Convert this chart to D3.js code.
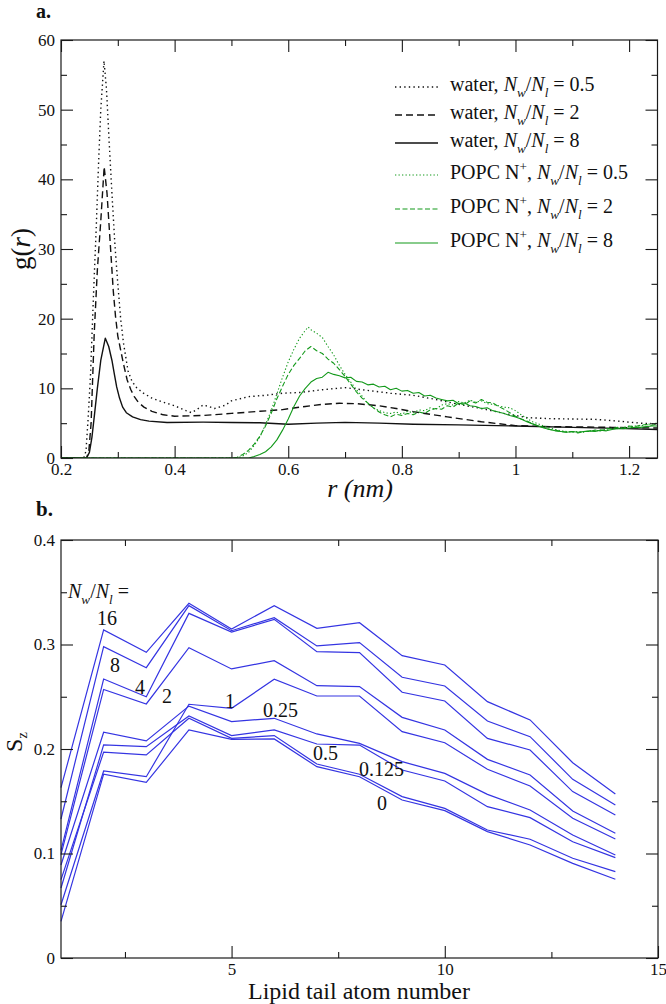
<!DOCTYPE html>
<html><head><meta charset="utf-8">
<script src="https://cdn.jsdelivr.net/npm/d3@7"></script>
<style>
body{margin:0;background:#fff}
svg{display:block}
text{font-family:"Liberation Serif","Times New Roman",serif;fill:#111;white-space:pre}
</style>
</head><body>
<svg id="c" width="666" height="1004"></svg>
<script>
// ---------------- Panel a: g(r) data ----------------
const waterRatio05 = [[0.20,0],[0.24,0],[0.244,1],[0.248,6],[0.252,12],[0.257,23],[0.262,33],[0.266,42],[0.270,50],[0.2757,57],[0.280,53],[0.285,45],[0.290,37.5],[0.295,30.5],[0.300,25],[0.305,20],[0.310,16.5],[0.318,12.5],[0.325,11],[0.333,10.1],[0.345,9.3],[0.36,8.6],[0.38,8.0],[0.40,7.5],[0.42,6.8],[0.43,6.5],[0.44,7.0],[0.45,7.6],[0.46,7.4],[0.47,7.1],[0.49,7.6],[0.50,8.2],[0.53,8.8],[0.56,9.0],[0.59,9.3],[0.62,9.4],[0.66,9.8],[0.70,10.1],[0.74,9.7],[0.78,9.3],[0.82,9.0],[0.86,8.4],[0.90,7.7],[0.94,7.1],[0.98,6.4],[1.02,5.8],[1.06,5.65],[1.10,5.6],[1.14,5.55],[1.18,5.3],[1.22,5.0],[1.25,4.9]];
const waterRatio2 = [[0.20,0],[0.245,0],[0.249,1],[0.253,5],[0.2585,17.9],[0.264,27],[0.270,34],[0.276,41.8],[0.281,38],[0.2874,29.9],[0.292,24],[0.296,20.3],[0.300,17.5],[0.305,15.5],[0.310,13.5],[0.3165,11.2],[0.323,9.8],[0.329,8.8],[0.336,8.0],[0.346,7.3],[0.36,6.7],[0.38,6.2],[0.40,6.0],[0.45,6.1],[0.50,6.4],[0.55,6.7],[0.59,6.95],[0.63,7.4],[0.66,7.7],[0.69,7.85],[0.72,7.8],[0.76,7.5],[0.79,7.1],[0.82,6.65],[0.88,5.9],[0.94,5.2],[1.00,4.65],[1.06,4.5],[1.12,4.45],[1.17,4.4],[1.25,4.3]];
const waterRatio8 = [[0.20,0],[0.245,0],[0.250,0.8],[0.2545,3],[0.2585,5.9],[0.264,10],[0.270,14],[0.278,17.2],[0.284,16],[0.2897,14],[0.294,12],[0.298,10.2],[0.303,8.6],[0.3085,7.3],[0.315,6.5],[0.326,5.9],[0.34,5.5],[0.355,5.3],[0.3866,5.1],[0.45,5.15],[0.50,5.1],[0.55,5.05],[0.60,4.85],[0.65,5.0],[0.70,5.12],[0.76,5.0],[0.82,4.85],[0.90,4.75],[1.00,4.6],[1.10,4.4],[1.18,4.25],[1.25,4.1]];
const popcRatio05 = [[0.20,0],[0.50,0],[0.51,0],[0.52,0.3],[0.53,0.8],[0.54,1.8],[0.55,3.0],[0.56,4.8],[0.57,6.8],[0.58,9.2],[0.59,11.6],[0.60,13.8],[0.61,15.6],[0.62,17.2],[0.63,18.3],[0.635,18.8],[0.64,18.4],[0.65,17.9],[0.66,17.3],[0.67,16.0],[0.68,14.8],[0.69,13.3],[0.70,12.0],[0.71,10.9],[0.72,9.8],[0.73,8.9],[0.74,7.8],[0.75,7.2],[0.76,6.8],[0.77,6.5],[0.78,6.4],[0.79,6.6],[0.80,6.3],[0.81,6.7],[0.82,6.5],[0.83,6.9],[0.84,6.8],[0.85,7.2],[0.86,7.0],[0.87,7.6],[0.88,7.8],[0.89,7.6],[0.90,8.1],[0.91,7.9],[0.92,8.3],[0.93,8.0],[0.94,8.2],[0.95,7.8],[0.96,7.7],[0.97,7.5],[0.98,7.3],[0.99,7.2],[1.00,6.8],[1.01,6.2],[1.02,5.7],[1.03,5.2],[1.04,4.9],[1.05,4.6],[1.06,4.3],[1.07,4.1],[1.08,3.9],[1.09,3.8],[1.10,3.7],[1.11,3.8],[1.12,3.7],[1.13,3.9],[1.14,3.9],[1.15,4.0],[1.16,4.1],[1.17,4.3],[1.18,4.2],[1.19,4.4],[1.20,4.5],[1.21,4.6],[1.22,4.6],[1.23,4.8],[1.24,4.9],[1.25,5.0]];
const popcRatio2 = [[0.20,0],[0.50,0],[0.51,0.1],[0.52,0.5],[0.53,1.1],[0.54,2.0],[0.55,3.1],[0.56,4.6],[0.57,6.4],[0.58,8.5],[0.59,10.3],[0.60,12.0],[0.61,13.3],[0.62,14.3],[0.63,15.4],[0.64,16.0],[0.65,15.4],[0.66,15.0],[0.67,14.2],[0.68,13.6],[0.69,12.7],[0.70,11.7],[0.71,10.6],[0.72,9.5],[0.73,8.6],[0.74,7.9],[0.75,7.2],[0.76,6.6],[0.77,6.2],[0.78,5.9],[0.79,6.3],[0.80,6.1],[0.81,6.4],[0.82,6.2],[0.83,6.6],[0.84,6.4],[0.85,6.9],[0.86,7.1],[0.87,7.0],[0.88,7.5],[0.89,7.3],[0.90,7.9],[0.91,7.6],[0.92,8.2],[0.93,7.9],[0.94,8.4],[0.95,8.0],[0.96,7.9],[0.97,7.4],[0.98,7.0],[0.99,6.5],[1.00,6.0],[1.01,5.6],[1.02,5.3],[1.03,4.9],[1.04,4.6],[1.05,4.4],[1.06,4.1],[1.07,4.0],[1.08,3.8],[1.09,3.7],[1.10,3.8],[1.11,3.6],[1.12,3.8],[1.13,3.8],[1.14,4.0],[1.15,3.9],[1.16,4.2],[1.17,4.2],[1.18,4.4],[1.19,4.3],[1.20,4.6],[1.21,4.5],[1.22,4.7],[1.23,4.8],[1.24,4.7],[1.25,4.9]];
const popcRatio8 = [[0.20,0],[0.53,0],[0.54,0.2],[0.55,0.5],[0.56,0.9],[0.57,1.6],[0.58,2.6],[0.59,4.0],[0.60,5.6],[0.61,7.4],[0.62,8.9],[0.63,10.0],[0.64,10.9],[0.65,11.4],[0.66,11.6],[0.67,12.3],[0.68,12.0],[0.69,11.8],[0.70,11.5],[0.71,11.6],[0.72,11.0],[0.73,10.9],[0.74,10.5],[0.75,10.6],[0.76,10.2],[0.77,10.3],[0.78,9.8],[0.79,10.0],[0.80,9.6],[0.81,9.7],[0.82,9.3],[0.83,9.4],[0.84,8.9],[0.85,9.0],[0.86,8.6],[0.87,8.4],[0.88,8.2],[0.89,8.3],[0.90,7.8],[0.91,7.9],[0.92,7.5],[0.93,7.4],[0.94,7.1],[0.95,7.2],[0.96,6.8],[0.97,6.6],[0.98,6.4],[0.99,6.1],[1.00,5.9],[1.01,5.6],[1.02,5.2],[1.03,4.9],[1.04,4.6],[1.05,4.3],[1.06,4.1],[1.07,3.9],[1.08,3.8],[1.09,3.7],[1.10,3.8],[1.11,3.7],[1.12,3.8],[1.13,3.9],[1.14,3.8],[1.15,4.0],[1.16,3.9],[1.17,4.1],[1.18,4.2],[1.19,4.2],[1.20,4.3],[1.21,4.4],[1.22,4.4],[1.23,4.5],[1.24,4.6],[1.25,4.6]];
const legendRatios = ["0.5","2","8","0.5","2","8"];
const rMajorTicks = [0.2,0.4,0.6,0.8,1,1.2];
const rMinorTicks = [0.3,0.5,0.7,0.9,1.1];
const gMajorTicks = [0,10,20,30,40,50,60];
const gMinorTicks = [5,15,25,35,45,55];

// ---------------- Panel b: order parameter data ----------------
const atomNumber = [1,2,3,4,5,6,7,8,9,10,11,12,13,14];
const sz16   = [0.163,0.314,0.2925,0.3394,0.3148,0.3372,0.3155,0.3209,0.2893,0.2804,0.2453,0.2278,0.1869,0.1569];
const sz8    = [0.133,0.298,0.2778,0.3372,0.3132,0.3257,0.2986,0.3018,0.2686,0.2603,0.2268,0.2118,0.1710,0.1464];
const sz4    = [0.103,0.267,0.2500,0.3298,0.3118,0.3241,0.2931,0.2922,0.2543,0.2459,0.2102,0.1990,0.1592,0.1368];
const sz2    = [0.099,0.257,0.2431,0.2970,0.2766,0.2845,0.2606,0.2597,0.2303,0.2182,0.1901,0.1751,0.1407,0.1193];
const sz1    = [0.051,0.179,0.1735,0.2428,0.2389,0.2667,0.2507,0.2507,0.2166,0.2060,0.1806,0.1646,0.1337,0.1139];
const sz025  = [0.089,0.216,0.2077,0.2410,0.2262,0.2294,0.2144,0.2054,0.1879,0.1767,0.1566,0.1416,0.1177,0.0986];
const sz05   = [0.067,0.204,0.2022,0.2316,0.2128,0.2182,0.2048,0.2038,0.1799,0.1694,0.1448,0.1343,0.1113,0.0960];
const sz0125 = [0.075,0.197,0.1943,0.2294,0.2102,0.2128,0.1856,0.1758,0.1544,0.1432,0.1225,0.1136,0.0954,0.0826];
const sz0    = [0.035,0.176,0.1681,0.2182,0.2093,0.2096,0.1831,0.1735,0.1512,0.1410,0.1209,0.1081,0.0906,0.0753];
const szLabels = ["16","8","4","2","1","0.25","0.5","0.125","0"];
// label anchor points in data units (atom number, S_z)
const szLabelAtom = [1.844,2.149,2.735,3.369,4.846,5.737,6.910,7.988,8.410];
const szLabelValue = [0.3187,0.2737,0.2526,0.2440,0.2392,0.2306,0.1895,0.1742,0.1416];
const atomMajorTicks = [5,10,15];
const atomMinorTicks = [2.5,7.5,12.5];
const szMajorTicks = [0,0.1,0.2,0.3,0.4];
const szMinorTicks = [0.05,0.15,0.25,0.35];

// ---------------- drawing ----------------
const svg = d3.select("#c");
svg.append("rect").attr("width",666).attr("height",1004).attr("fill","#fff");
const FONT = '"Liberation Serif","Times New Roman",serif';
const AXC = "#1a1a1a";

function rich(parent, x, y, parts, size, anchor){
  const t = parent.append("text").attr("x",x).attr("y",y).attr("font-size",size)
    .attr("text-anchor",anchor||"start");
  let shift = 0;
  parts.forEach(p=>{
    const target = p.sub ? size*0.28 : (p.sup ? -size*0.42 : 0);
    const ts = t.append("tspan").text(p.t).attr("dy", target - shift);
    shift = target;
    if(p.sub || p.sup) ts.attr("font-size", size*0.66);
    if(p.i) ts.attr("font-style","italic");
  });
  return t;
}
const ratioParts = v => [{t:"N",i:1},{t:"w",i:1,sub:1},{t:"/"},{t:"N",i:1},{t:"l",i:1,sub:1},{t:" = "+v}];

function frame(x, y, xMaj, xMin, yMaj, yMin, xFmt, yFmt){
  const g = svg.append("g");
  const [x0,x1] = x.range(), [y0,y1] = y.range();
  const style = s => { s.select(".domain").remove(); s.selectAll("line").attr("stroke",AXC).attr("stroke-width",1.1);
    s.attr("font-family",FONT).attr("font-size",17);
    s.selectAll("text").attr("fill","#111").attr("font-family",FONT); };
  g.append("g").attr("transform",`translate(0,${y0})`).call(d3.axisBottom(x).tickValues(xMaj).tickSizeInner(-12).tickSizeOuter(0).tickPadding(5).tickFormat(xFmt)).call(style);
  g.append("g").attr("transform",`translate(0,${y0})`).call(d3.axisBottom(x).tickValues(xMin).tickSizeInner(-6).tickSizeOuter(0).tickFormat("")).call(style);
  g.append("g").attr("transform",`translate(0,${y1})`).call(d3.axisTop(x).tickValues(xMaj).tickSizeInner(-12).tickSizeOuter(0).tickFormat("")).call(style);
  g.append("g").attr("transform",`translate(0,${y1})`).call(d3.axisTop(x).tickValues(xMin).tickSizeInner(-6).tickSizeOuter(0).tickFormat("")).call(style);
  g.append("g").attr("transform",`translate(${x0},0)`).call(d3.axisLeft(y).tickValues(yMaj).tickSizeInner(-12).tickSizeOuter(0).tickPadding(6).tickFormat(yFmt)).call(style);
  g.append("g").attr("transform",`translate(${x0},0)`).call(d3.axisLeft(y).tickValues(yMin).tickSizeInner(-6).tickSizeOuter(0).tickFormat("")).call(style);
  g.append("g").attr("transform",`translate(${x1},0)`).call(d3.axisRight(y).tickValues(yMaj).tickSizeInner(-12).tickSizeOuter(0).tickFormat("")).call(style);
  g.append("g").attr("transform",`translate(${x1},0)`).call(d3.axisRight(y).tickValues(yMin).tickSizeInner(-6).tickSizeOuter(0).tickFormat("")).call(style);
  g.append("rect").attr("x",x0).attr("y",y1).attr("width",x1-x0).attr("height",y0-y1)
    .attr("fill","none").attr("stroke",AXC).attr("stroke-width",1.2);
}

// ---- Panel a ----
const xa = d3.scaleLinear().domain([0.2,1.25]).range([61,657.5]);
const ya = d3.scaleLinear().domain([0,60]).range([458,40]);
const lineA = d3.line().x(d=>xa(d[0])).y(d=>ya(d[1]));
svg.append("clipPath").attr("id","clipA").append("rect").attr("x",61).attr("y",40).attr("width",596.5).attr("height",418);

const GREEN = "#12991a";
const seriesA = [
  {data:waterRatio05, color:"#111", dash:"1.4,3.2", w:1.4, name:"water"},
  {data:waterRatio2,  color:"#111", dash:"7,4",     w:1.4, name:"water"},
  {data:waterRatio8,  color:"#111", dash:null,      w:1.4, name:"water"},
  {data:popcRatio05,  color:GREEN,  dash:"1.3,2.2", w:1.1, name:"POPC"},
  {data:popcRatio2,   color:GREEN,  dash:"5,2.5",   w:1.1, name:"POPC"},
  {data:popcRatio8,   color:GREEN,  dash:null,      w:1.1, name:"POPC"}
];
const gA = svg.append("g").attr("clip-path","url(#clipA)");
seriesA.forEach(s=>{
  gA.append("path").attr("d",lineA(s.data)).attr("fill","none").attr("stroke",s.color)
    .attr("stroke-width",s.w).attr("stroke-dasharray",s.dash).attr("stroke-linejoin","round");
});
frame(xa, ya, rMajorTicks, rMinorTicks, gMajorTicks, gMinorTicks, d=>String(+d.toFixed(2)), d=>String(d));

// legend
const legendY = [87,115,143,175,209,243];
seriesA.forEach((s,i)=>{
  const yy = legendY[i];
  svg.append("line").attr("x1",395).attr("x2",438).attr("y1",yy).attr("y2",yy)
    .attr("stroke",s.color).attr("stroke-width",s.w).attr("stroke-dasharray",s.dash);
  const parts = s.name==="water" ? [{t:"water, "}] : [{t:"POPC N"},{t:"+",sup:1},{t:", "}];
  rich(svg, 450, yy+4, parts.concat(ratioParts(legendRatios[i])), 20);
});

// axis labels a
svg.append("text").attr("x",36).attr("y",18).attr("font-size",20).attr("font-weight","bold").text("a.");
const gl = svg.append("text").attr("transform","translate(30,249) rotate(-90)").attr("text-anchor","middle").attr("font-size",27);
gl.append("tspan").text("g(");
gl.append("tspan").attr("font-style","italic").text("r");
gl.append("tspan").text(")");
svg.append("text").attr("x",360).attr("y",497).attr("text-anchor","middle").attr("font-size",26)
  .attr("font-style","italic").text("r (nm)");

// ---- Panel b ----
const xb = d3.scaleLinear().domain([1,15]).range([61,658]);
const yb = d3.scaleLinear().domain([0,0.4]).range([958,540]);
const lineB = d3.line().x((d,i)=>xb(atomNumber[i])).y(d=>yb(d));
const seriesB = [sz16, sz8, sz4, sz2, sz1, sz025, sz05, sz0125, sz0];
const BLUE = "#3434e2";
seriesB.forEach(s=>{
  svg.append("path").attr("d",lineB(s)).attr("fill","none").attr("stroke",BLUE)
    .attr("stroke-width",1.2).attr("stroke-linejoin","miter");
});
frame(xb, yb, atomMajorTicks, atomMinorTicks, szMajorTicks, szMinorTicks, d=>String(d), d=>String(+d.toFixed(2)));

rich(svg, xb(1.164), yb(0.3445), ratioParts("").slice(0,5).concat([{t:" ="}]), 20);
szLabels.forEach((t,i)=>{
  svg.append("text").attr("x",xb(szLabelAtom[i])).attr("y",yb(szLabelValue[i])).attr("font-size",20).text(t);
});

svg.append("text").attr("x",36).attr("y",516).attr("font-size",21).attr("font-weight","bold").text("b.");
const sl = svg.append("text").attr("transform","translate(22,742) rotate(-90)").attr("text-anchor","middle").attr("font-size",24);
sl.append("tspan").text("S");
sl.append("tspan").attr("font-size",15).attr("dy",5).text("z");
svg.append("text").attr("x",359).attr("y",999).attr("text-anchor","middle").attr("font-size",24).text("Lipid tail atom number");
</script>
</body></html>
